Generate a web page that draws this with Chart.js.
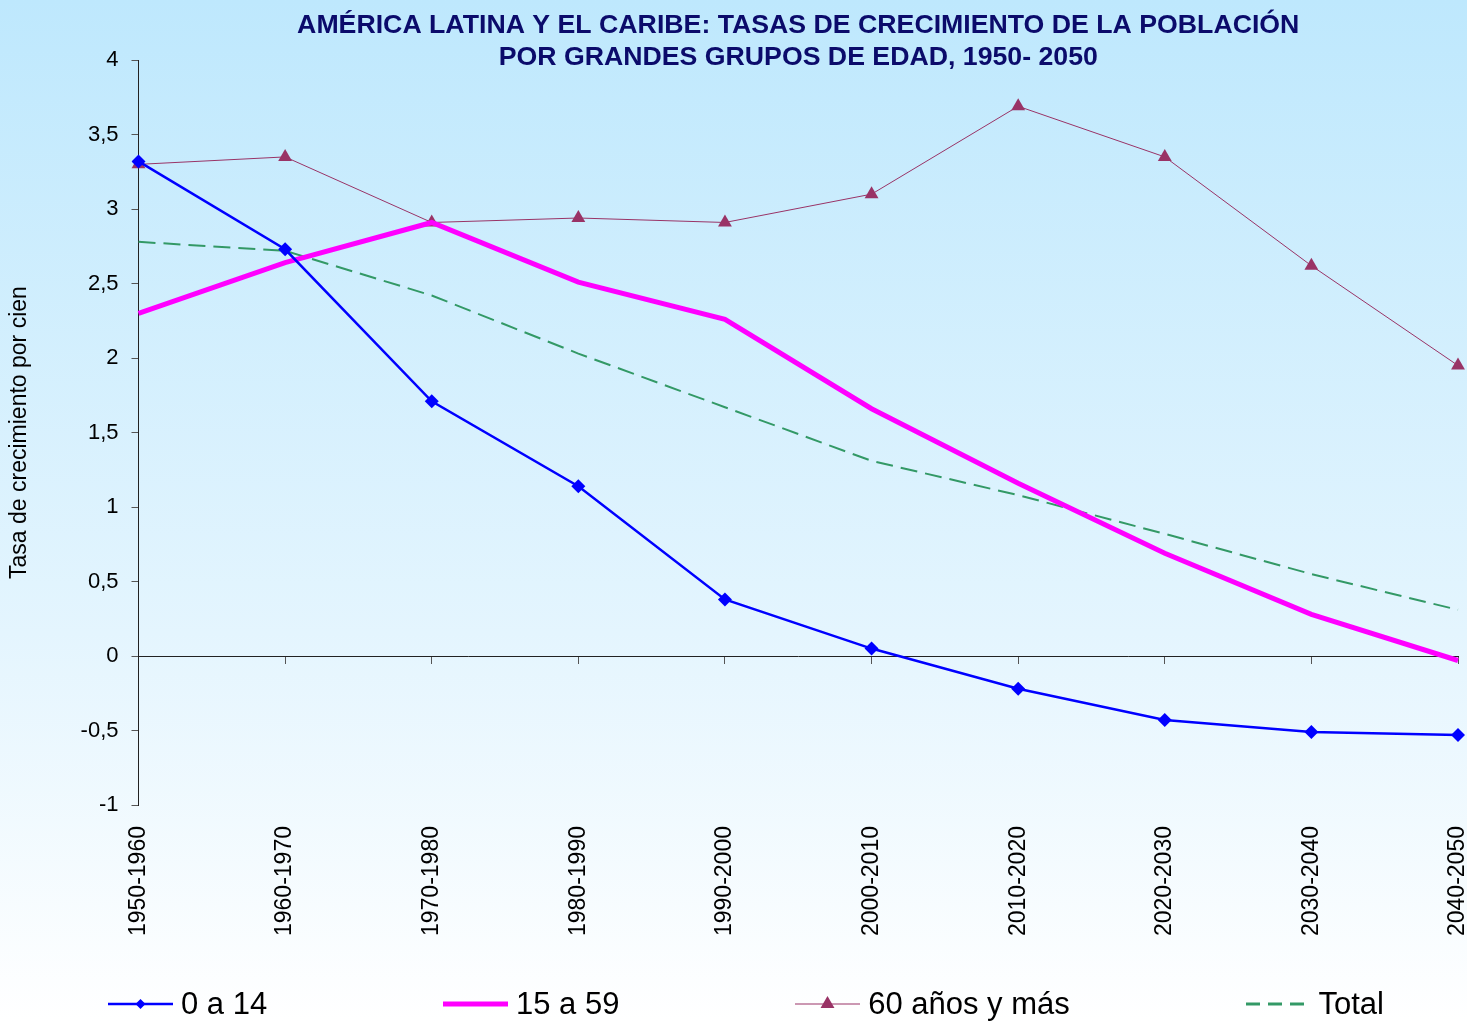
<!DOCTYPE html>
<html>
<head>
<meta charset="utf-8">
<script src="https://cdn.jsdelivr.net/npm/chart.js@4.4.0/dist/chart.umd.min.js"></script>
<style>
  html, body { margin: 0; padding: 0; }
  #wrap {
    position: relative;
    width: 1467px;
    height: 1021px;
    background: linear-gradient(to bottom, #bee8fd 0%, #e4f5fe 62%, #ffffff 100%);
    font-family: Arial, "Liberation Sans", sans-serif;
  }
  #chart { position: absolute; left: 0; top: 0; }
  #legend {
    position: absolute;
    left: 108px;
    right: 83px;
    top: 986px;
    display: flex;
    justify-content: space-between;
    align-items: center;
    font-size: 31px;
    color: #000;
  }
  .item { display: flex; align-items: center; }
  .item svg { margin-right: 8px; }
</style>
</head>
<body>
<div id="wrap">
  <canvas id="chart" width="1467" height="1021"></canvas>
  <div id="legend"></div>
</div>
<script>
const periods = ["1950-1960", "1960-1970", "1970-1980", "1980-1990", "1990-2000",
                 "2000-2010", "2010-2020", "2020-2030", "2030-2040", "2040-2050"];

const age0to14  = [3.32, 2.73, 1.71, 1.14, 0.38, 0.05, -0.22, -0.43, -0.51, -0.53];
const age15to59 = [2.30, 2.64, 2.91, 2.51, 2.26, 1.66, 1.16, 0.69, 0.28, -0.03];
const age60plus = [3.30, 3.35, 2.91, 2.94, 2.91, 3.10, 3.69, 3.35, 2.62, 1.95];
const total     = [2.78, 2.72, 2.42, 2.03, 1.67, 1.31, 1.08, 0.82, 0.55, 0.31];

const yTicks = { min: -1, max: 4, step: 0.5 };

const titleLines = [
    "AMÉRICA LATINA Y EL CARIBE: TASAS DE CRECIMIENTO DE LA POBLACIÓN",
    "POR GRANDES GRUPOS DE EDAD, 1950- 2050"
];

const ctx = document.getElementById('chart').getContext('2d');

const chart = new Chart(ctx, {
    type: 'line',
    data: {
        labels: periods,
        datasets: [{
            label: '0 a 14',
            data: age0to14,
            borderColor: '#0000ff',
            backgroundColor: '#0000ff',
            borderWidth: 2.5,
            pointStyle: 'rectRot',
            pointRadius: 7,
            pointBorderWidth: 0
        }, {
            label: '15 a 59',
            data: age15to59,
            borderColor: '#ff00ff',
            backgroundColor: '#ff00ff',
            borderWidth: 5,
            pointRadius: 0
        }, {
            label: '60 años y más',
            data: age60plus,
            borderColor: '#993366',
            backgroundColor: '#993366',
            borderWidth: 1,
            pointStyle: 'triangle',
            pointRadius: 8,
            pointBorderWidth: 0
        }, {
            label: 'Total',
            data: total,
            borderColor: '#339966',
            backgroundColor: '#339966',
            borderWidth: 2,
            borderDash: [17, 8],
            pointRadius: 0
        }]
    },
    options: {
        responsive: false,
        animation: false,
        layout: {
            padding: { left: 6, right: 0, top: 0, bottom: 82 }
        },
        plugins: {
            legend: { display: false },
            tooltip: { enabled: false },
            title: {
                display: true,
                fullSize: false,
                text: titleLines,
                color: '#0b0b6b',
                font: { family: 'Arial', size: 26.7, weight: 'bold', lineHeight: 1.2 },
                padding: { top: 10, bottom: -14 }
            }
        },
        scales: {
            x: {
                type: 'category',
                position: { y: 0 },
                offset: false,
                ticks: { display: false },
                grid: {
                    display: true,
                    drawOnChartArea: false,
                    drawTicks: true,
                    tickLength: 7,
                    tickColor: '#555'
                },
                border: { display: true, color: '#222', width: 1 }
            },
            xLabels: {
                type: 'category',
                position: 'bottom',
                offset: false,
                grid: {
                    display: true,
                    drawOnChartArea: false,
                    drawTicks: true,
                    tickLength: 18,
                    tickColor: 'rgba(0,0,0,0)'
                },
                border: { display: false },
                ticks: {
                    color: '#000',
                    font: { family: 'Arial', size: 23 },
                    minRotation: 90,
                    maxRotation: 90,
                    autoSkip: false,
                    padding: 3
                },
                afterFit: scale => { scale.paddingRight = 9; }
            },
            y: {
                min: yTicks.min,
                max: yTicks.max,
                ticks: {
                    stepSize: yTicks.step,
                    color: '#000',
                    font: { family: 'Arial', size: 22 },
                    padding: 13,
                    callback: v => String(v).replace('.', ',')
                },
                grid: {
                    display: true,
                    drawOnChartArea: false,
                    drawTicks: true,
                    tickLength: 7,
                    tickColor: '#555'
                },
                border: { display: true, color: '#222', width: 1 },
                title: {
                    display: true,
                    text: 'Tasa de crecimiento por cien',
                    color: '#000',
                    font: { family: 'Arial', size: 23 },
                    padding: { top: 0, bottom: 34 }
                }
            }
        }
    }
});

// legend built from the datasets
function swatch(ds) {
    let w = 65, h = 24, m = h / 2;
    let dash = ds.borderDash ? `stroke-dasharray="14 8"` : "";
    let lw = ds.borderDash ? 3 : Math.max(ds.borderWidth, 1);
    let svg = `<svg width="${w}" height="${h}"><line x1="0" y1="${m}" x2="${w}" y2="${m}" stroke="${ds.borderColor}" stroke-width="${lw}" ${dash}/>`;
    let r = ds.pointRadius;
    if (ds.pointStyle === 'rectRot') {
        r = 5;
        svg += `<polygon points="${w/2},${m-r} ${w/2+r},${m} ${w/2},${m+r} ${w/2-r},${m}" fill="${ds.backgroundColor}"/>`;
    } else if (ds.pointStyle === 'triangle') {
        svg += `<polygon points="${w/2},${m-r} ${w/2+r*0.87},${m+r*0.5} ${w/2-r*0.87},${m+r*0.5}" fill="${ds.backgroundColor}"/>`;
    }
    return svg + "</svg>";
}

let legend = document.getElementById("legend");
chart.data.datasets.forEach(ds => {
    let item = document.createElement("div");
    item.className = "item";
    item.innerHTML = swatch(ds) + "<span>" + ds.label + "</span>";
    legend.appendChild(item);
});
</script>
</body>
</html>
